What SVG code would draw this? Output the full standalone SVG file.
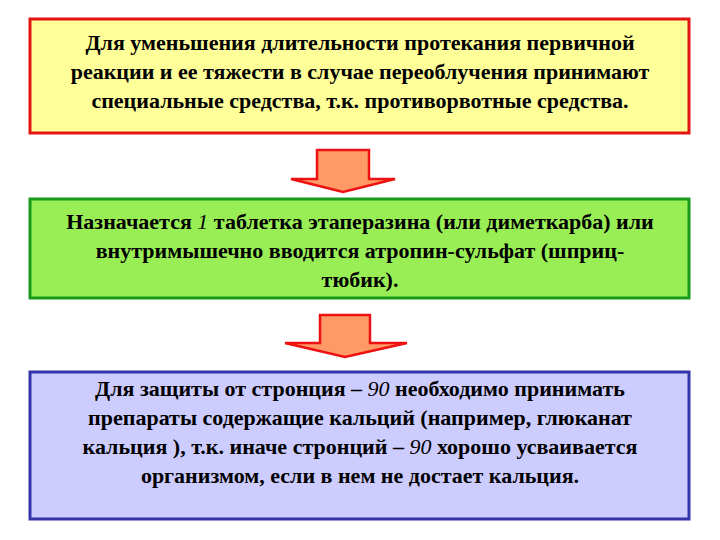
<svg xmlns="http://www.w3.org/2000/svg" width="720" height="540" viewBox="0 0 720 540">
<style>
text{font-family:'Liberation Serif','DejaVu Serif','Times New Roman',serif;font-weight:bold;font-size:22px;text-anchor:middle;fill:#000}
.it{font-style:italic;font-weight:normal}
.arr{fill:#ff9966;stroke:#ee1111;stroke-width:2.5;stroke-linejoin:miter}
</style>
<rect width="720" height="540" fill="#fff"/>
<g id="box1">
<rect x="30" y="19" width="659" height="114" fill="#ffff99" stroke="#e31414" stroke-width="3"/>
<text x="360" y="50">Для уменьшения длительности протекания первичной</text>
<text x="360" y="79">реакции и ее тяжести в случае переоблучения принимают</text>
<text x="360" y="108">специальные средства, т.к. противорвотные средства.</text>
</g>
<g id="box2">
<rect x="30" y="199" width="659" height="99" fill="#99ee55" stroke="#1a9a1a" stroke-width="3"/>
<text x="360" y="229">Назначается <tspan class="it">1</tspan> таблетка этаперазина (или диметкарба) или</text>
<text x="360" y="258">внутримышечно вводится атропин-сульфат (шприц-</text>
<text x="360" y="287">тюбик).</text>
</g>
<g id="box3">
<rect x="30" y="372" width="659" height="147" fill="#ccccff" stroke="#3333aa" stroke-width="3"/>
<text x="360" y="396">Для защиты от стронция – <tspan class="it">90</tspan> необходимо принимать</text>
<text x="360" y="425">препараты содержащие кальций (например, глюканат</text>
<text x="360" y="454">кальция ), т.к. иначе стронций – <tspan class="it">90</tspan> хорошо усваивается</text>
<text x="360" y="483">организмом, если в нем не достает кальция.</text>
</g>
<g id="connectors">
<path class="arr" d="M317 150 H369 V179 H395 L343 192 L291 179 H317 Z"/>
<path class="arr" d="M320 315 H370 V343 H407 L345 357 L285 343 H320 Z"/>
</g>
</svg>
